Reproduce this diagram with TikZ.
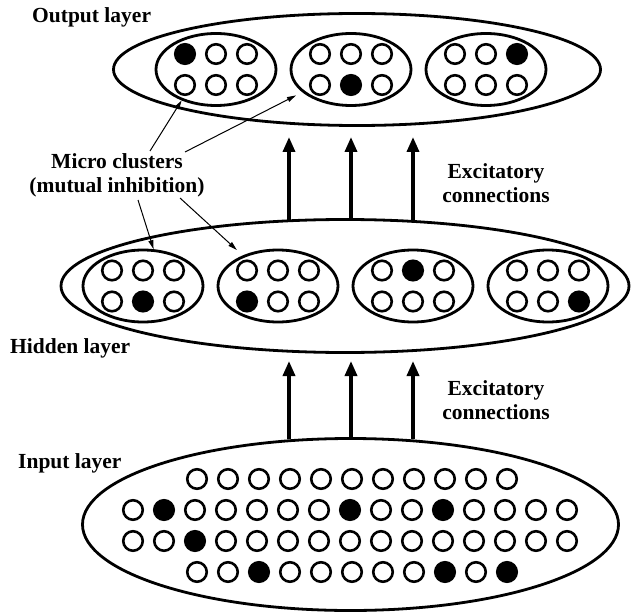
\documentclass[tikz,border=0pt]{standalone}
\usepackage{fontspec}
\setmainfont{Liberation Serif}
\usetikzlibrary{shapes.geometric,arrows.meta}

% one micro cluster: name, centre x, centre y, active cell (row digit, column digit)
\newcommand\microcluster[4]{%
  \node[cluster] (#1) at (#2,#3) {};
  \foreach \r in {1,2} {
    \foreach \c in {1,2,3} {
      \ifnum\r\c=#4 \def\cellfill{black}\else\def\cellfill{white}\fi
      \node[cell, fill=\cellfill] (#1-\r\c) at ({#2+(\c-2)*31},{#3+(\r-1.5)*31}) {};
    }
  }%
}

% one row of input cells: row name, y, first x, list of 0/1 activity flags
\newcommand\inputrow[4]{%
  \foreach \s [count=\i from 0] in {#4} {
    \ifnum\s=1 \def\cellfill{black}\else\def\cellfill{white}\fi
    \node[cell, fill=\cellfill] (#1-\i) at ({#3+\i*31},#2) {};
  }%
}

\begin{document}
\begin{tikzpicture}[x=1pt, y=-1pt,
  lbl/.style={font=\fontsize{21.5}{24}\selectfont\bfseries, inner sep=0pt},
  layer/.style={draw, ellipse, line width=2.8pt, inner sep=0pt},
  cluster/.style={draw, ellipse, line width=2.8pt, inner sep=0pt,
                  minimum width=120pt, minimum height=72pt},
  cell/.style={draw, circle, line width=2.6pt, inner sep=0pt, minimum size=19.5pt},
  feed/.style={line width=3.5pt, -{Triangle[length=15pt,width=12pt]}},
  pointer/.style={line width=1pt, -{Triangle[length=9pt,width=5pt]}}
]
\useasboundingbox (0,0) rectangle (632,615);

% layers
\node[layer, minimum width=487pt, minimum height=112pt] (output) at (357,69.5) {};
\node[layer, minimum width=568pt, minimum height=133pt] (hidden) at (345,286) {};
\node[layer, minimum width=536pt, minimum height=172pt] (input) at (350.5,524.5) {};

% output layer clusters
\microcluster{oc1}{216}{69.5}{11}
\microcluster{oc2}{351}{69.5}{22}
\microcluster{oc3}{486}{69.5}{13}

% hidden layer clusters
\microcluster{hc1}{143}{286}{22}
\microcluster{hc2}{278}{286}{21}
\microcluster{hc3}{413}{286}{12}
\microcluster{hc4}{548}{286}{23}

% input layer cells
\inputrow{ia}{479}{197}{0,0,0,0,0,0,0,0,0,0,0}
\inputrow{ib}{510}{133}{0,1,0,0,0,0,0,1,0,0,1,0,0,0,0}
\inputrow{ic}{541}{133}{0,0,1,0,0,0,0,0,0,0,0,0,0,0,0}
\inputrow{id}{572}{197}{0,0,1,0,0,0,0,0,1,0,1}

% labels
\node[lbl, anchor=base west] (outlbl) at (32,23) {Output layer};
\node[lbl, anchor=base west] (hidlbl) at (10,353) {Hidden layer};
\node[lbl, anchor=base west] (inlbl) at (18,468) {Input layer};
\node[lbl, align=center] (micro) at (117,175) {Micro clusters\\(mutual inhibition)};
\node[lbl, align=center] (exctop) at (496,183) {Excitatory\\connections};
\node[lbl, align=center] (excbot) at (496,400) {Excitatory\\connections};

% excitatory feed-forward arrows
\coordinate (up1) at (289,137);
\coordinate (up2) at (351,137);
\coordinate (up3) at (413,137);
\coordinate (lo1) at (289,361);
\coordinate (lo2) at (351,361);
\coordinate (lo3) at (413,361);
\foreach \k in {1,2,3} {
  \draw[feed, shorten <=-2pt] (hidden.north -| up\k) -- (up\k);
  \draw[feed, shorten <=-2pt] (input.north -| lo\k) -- (lo\k);
}

% pointers from the micro-cluster label
\coordinate (m1) at (150,151);
\coordinate (m2) at (185,152);
\coordinate (m3) at (138,200);
\coordinate (m4) at (180,198);
\draw[pointer] (m1) -- (oc1.222);
\draw[pointer, shorten >=7pt] (m2) -- (oc2.205);
\draw[pointer] (m3) -- (hc1.74);
\draw[pointer, shorten >=8pt] (m4) -- (hc2.139);
\end{tikzpicture}
\end{document}
